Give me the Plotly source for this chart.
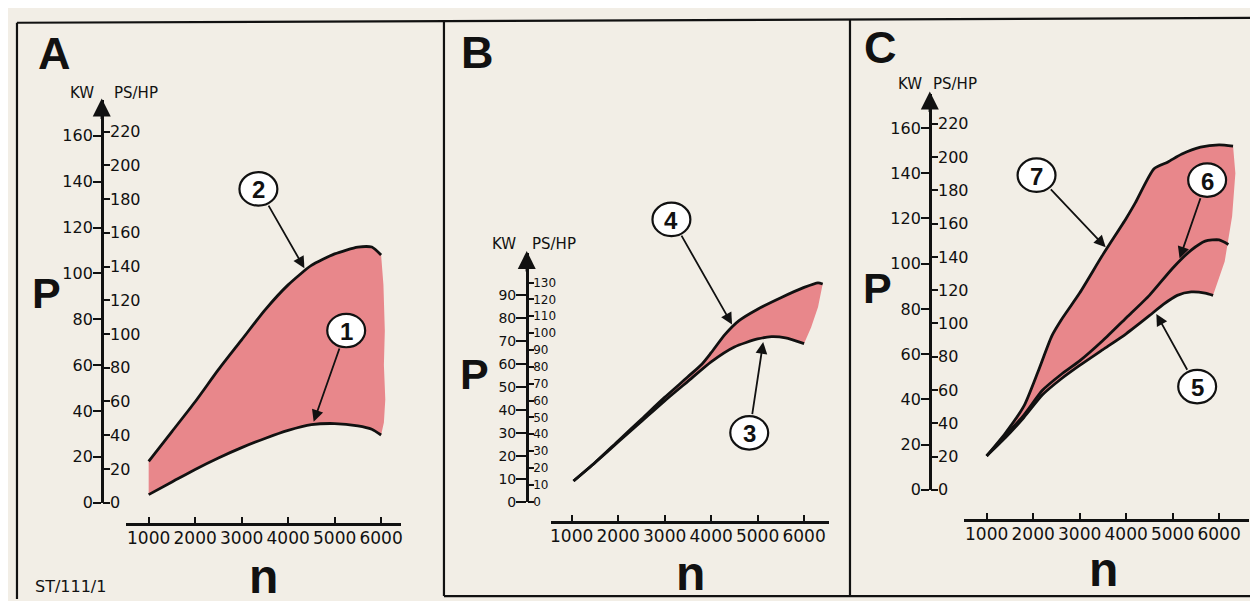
import numpy as np
import plotly.graph_objects as go

W, H = 1258, 601
KW_PER_PS = 0.7355

# ---------------- data (n in rpm, P in kW) ----------------
# Panel A
A_n = [1000, 1500, 2000, 2500, 3000, 3500, 4000, 4500, 5000, 5500, 5800, 6000]
A_curve2 = [18, 31, 44, 58, 71, 84, 95, 103.5, 108.5, 111.5, 111.5, 108]
A_curve1 = [3.5, 9, 14.5, 19.5, 24, 28, 31.5, 34, 34.5, 33.5, 32, 29.5]
A_edge_n = [6050, 6080, 6060, 6090, 6060]
A_edge_kw = [95, 75, 60, 45, 35]

# Panel B
B_n4 = [1040, 1500, 2000, 2500, 3000, 3500, 3800, 4000, 4300, 4600, 5000, 5500, 6000, 6300, 6400]
B_curve4 = [9, 17, 26.5, 36, 45.5, 54.5, 60, 65, 73, 79, 84, 89, 93.5, 95.5, 95]
B_n3 = [1040, 1500, 2000, 2500, 3000, 3500, 4000, 4500, 5000, 5300, 5600, 6000]
B_curve3 = [9, 17, 26, 35, 44, 52.5, 61, 67.5, 71, 72, 71.5, 69]
B_edge_n = [6300, 6150]
B_edge_kw = [85, 76]

# Panel C
C_n7 = [1000, 1400, 1800, 2100, 2400, 2600, 3000, 3500, 4000, 4200, 4600, 4900, 5200, 5600, 6000, 6300]
C_curve7 = [15, 25, 37, 52, 68, 75, 87, 104, 120, 127, 142, 145, 148.5, 151.5, 152.5, 152]
C_n6 = [1000, 1400, 1800, 2200, 2600, 3000, 3500, 4000, 4500, 5000, 5400, 5700, 6000, 6200]
C_curve6 = [15, 24, 33, 44, 51, 57, 66, 76, 86, 98, 106, 110, 110.5, 108.5]
C_n5 = [1000, 1400, 1800, 2200, 2600, 3000, 3500, 4000, 4500, 4800, 5100, 5400, 5700, 5870]
C_curve5 = [15, 23, 32, 42, 49, 55, 62, 69, 77, 82, 86, 87.5, 87, 86]
C_edge_n = [6350, 6280, 6120]
C_edge_kw = [140, 121, 101]

n_ticks = [1000, 2000, 3000, 4000, 5000, 6000]
kw_ticks_AC = list(range(0, 161, 20))
ps_ticks_AC = list(range(0, 221, 20))
kw_ticks_B = list(range(0, 91, 10))
ps_ticks_B = list(range(0, 131, 10))

# ---------------- layout geometry (pixels) ----------------
PINK = "#e8878b"
BG = "#f2eee6"
INK = "#111111"

panels = {
    "A": dict(yx=93, y0=503, kwpx=2.331, ytop=94, xline=525, xl=117, xr=393, t1000=140, p1000=46.6,
              kwt=kw_ticks_AC, pst=ps_ticks_AC, kfs=16, pfs=16, kl=8, pl=7),
    "B": dict(yx=519, y0=502, kwpx=2.33, ytop=249, xline=523, xl=543, xr=822, t1000=564, p1000=46.6,
              kwt=kw_ticks_B, pst=ps_ticks_B, kfs=14, pfs=12, kl=10, pl=6),
    "C": dict(yx=923, y0=490, kwpx=2.3, ytop=87, xline=521, xl=957, xr=1243, t1000=980, p1000=46.6,
              kwt=kw_ticks_AC, pst=ps_ticks_AC, kfs=16, pfs=16, kl=8, pl=7),
}


def px(x):
    return x / W


def py(y):
    return 1 - y / H


fig = go.Figure()
layout = dict(
    width=W, height=H, margin=dict(l=0, r=0, t=0, b=0),
    paper_bgcolor=BG, plot_bgcolor="rgba(0,0,0,0)", showlegend=False,
    font=dict(family="DejaVu Sans", color=INK),
)

names = ["A", "B", "C"]
for i, k in enumerate(names):
    g = panels[k]
    xa = "xaxis" if i == 0 else f"xaxis{i+1}"
    ya = "yaxis" if i == 0 else f"yaxis{2*i+1}"
    yb = f"yaxis{2*i+2}"
    xid = "x" if i == 0 else f"x{i+1}"
    yid = "y" if i == 0 else f"y{2*i+1}"
    g["xid"], g["yid"], g["y2id"] = xid, yid, f"y{2*i+2}"
    nl = 1000 + (g["xl"] - g["t1000"]) / g["p1000"] * 1000
    nr = 1000 + (g["xr"] - g["t1000"]) / g["p1000"] * 1000
    kwtop = (g["y0"] - g["ytop"]) / g["kwpx"]
    layout[xa] = dict(domain=[px(g["xl"]), px(g["xr"])], range=[nl, nr], anchor="free",
                      position=py(g["xline"]), showline=True, linewidth=2.5, linecolor=INK,
                      ticks="inside", ticklen=7, tickwidth=2, tickcolor=INK,
                      tickvals=n_ticks, tickfont=dict(size=17, family="DejaVu Sans", color=INK),
                      ticklabelstandoff=-2,
                      showgrid=False, zeroline=False, fixedrange=True)
    layout[ya] = dict(domain=[py(g["y0"]), py(g["ytop"])], range=[0, kwtop], anchor="free",
                      position=px(g["yx"]), side="left", showline=True, linewidth=2.5, linecolor=INK,
                      ticks="outside", ticklen=g["kl"], tickwidth=2, tickcolor=INK, tickvals=g["kwt"],
                      tickfont=dict(size=g["kfs"], family="DejaVu Sans", color=INK),
                      ticklabelstandoff=-3,
                      showgrid=False, zeroline=False, fixedrange=True)
    layout[yb] = dict(range=[0, kwtop / KW_PER_PS], overlaying=yid, anchor="free",
                      position=px(g["yx"]), side="right", showline=False,
                      ticks="outside", ticklen=g["pl"], tickwidth=2, tickcolor=INK, tickvals=g["pst"],
                      tickfont=dict(size=g["pfs"], family="DejaVu Sans", color=INK),
                      ticklabelstandoff=-3,
                      showgrid=False, zeroline=False, fixedrange=True)


def add_band(k, up_n, up, edge_n, edge_kw, lo_n, lo):
    g = panels[k]
    xs = list(up_n) + list(edge_n) + list(lo_n)[::-1]
    ys = list(up) + list(edge_kw) + list(lo)[::-1]
    fig.add_trace(go.Scatter(x=xs, y=ys, xaxis=g["xid"], yaxis=g["yid"], mode="lines",
                             fill="toself", fillcolor=PINK, line=dict(width=0), hoverinfo="skip"))


def add_curve(k, n, kw):
    g = panels[k]
    fig.add_trace(go.Scatter(x=n, y=kw, xaxis=g["xid"], yaxis=g["yid"], mode="lines",
                             line=dict(color=INK, width=2.8, shape="spline", smoothing=0.6)))


add_band("A", A_n, A_curve2, A_edge_n, A_edge_kw, A_n, A_curve1)
add_curve("A", A_n, A_curve2)
add_curve("A", A_n, A_curve1)

add_band("B", B_n4, B_curve4, B_edge_n, B_edge_kw, B_n3, B_curve3)
add_curve("B", B_n4, B_curve4)
add_curve("B", B_n3, B_curve3)

add_band("C", C_n7, C_curve7, C_edge_n, C_edge_kw, C_n5, C_curve5)
add_curve("C", C_n7, C_curve7)
add_curve("C", C_n6, C_curve6)
add_curve("C", C_n5, C_curve5)

# dummy traces so the PS/HP axes are drawn
for k in names:
    g = panels[k]
    fig.add_trace(go.Scatter(x=[None], y=[None], xaxis=g["xid"], yaxis=g["y2id"], mode="lines"))

annotations = []
shapes = []


def text(x, y, s, size, bold=False, family="Liberation Sans", color=INK):
    annotations.append(dict(x=px(x), y=py(y), xref="paper", yref="paper", showarrow=False,
                            text=f"<b>{s}</b>" if bold else s,
                            font=dict(size=size, family=family, color=color),
                            xanchor="center", yanchor="middle"))


# panel letters / axis names
label_pos = {
    "A": dict(letter=(46, 46), P=(38, 290), n=(255, 578), KW=(73, 86), PS=(127, 86)),
    "B": dict(letter=(470, 45), P=(467, 372), n=(683, 575), KW=(496, 240), PS=(546, 240)),
    "C": dict(letter=(874, 40), P=(871, 285), n=(1097, 571), KW=(903, 77), PS=(948, 77)),
}
for k in names:
    lp = label_pos[k]
    g = panels[k]
    text(*lp["letter"], k, 45, bold=True)
    text(*lp["P"], "P", 43, bold=True)
    text(*lp["n"], "n", 48, bold=True)
    text(*lp["KW"], "KW", 15, family="DejaVu Sans")
    text(*lp["PS"], "PS/HP", 15, family="DejaVu Sans")
    # arrow head on top of the P axis
    annotations.append(dict(x=px(g["yx"]), y=py(g["ytop"] - 2), xref="paper", yref="paper",
                            ax=0, ay=22, showarrow=True, arrowhead=2, arrowsize=1.5,
                            arrowwidth=2.4, arrowcolor=INK, text=""))

text(62, 588, "ST/111/1", 16, family="DejaVu Sans")

# call-outs: number, panel, curve (n, kW) lists, n on curve, circle centre in px, tip offset px
callouts = [
    ("2", "A", A_n, A_curve2, 4350, (250, 184), -3),
    ("1", "A", A_n, A_curve1, 4550, (338, 328), -3),
    ("4", "B", B_n4, B_curve4, 4450, (664, 215), -3),
    ("3", "B", B_n3, B_curve3, 5120, (742, 432), 4),
    ("7", "C", C_n7, C_curve7, 3560, (1030, 170), -3),
    ("6", "C", C_n6, C_curve6, 5150, (1201, 175), -3),
    ("5", "C", C_n5, C_curve5, 4650, (1191, 385), 4),
]
R = 19
for lab, k, cn, ckw, ntip, (cx, cy), dy in callouts:
    g = panels[k]
    kw = float(np.interp(ntip, cn, ckw))
    tx = g["t1000"] + (ntip - 1000) / 1000 * g["p1000"]
    ty = g["y0"] - kw * g["kwpx"] + dy
    dx, dyy = tx - cx, ty - cy
    d = (dx * dx + dyy * dyy) ** 0.5
    sx, sy = cx + R * dx / d, cy + R * dyy / d
    annotations.append(dict(x=px(tx), y=py(ty), xref="paper", yref="paper", ax=sx - tx, ay=sy - ty,
                            showarrow=True, arrowhead=2, arrowsize=1.3, arrowwidth=1.8,
                            arrowcolor=INK, text=""))
    shapes.append(dict(type="circle", xref="paper", yref="paper", x0=px(cx - R), x1=px(cx + R),
                       y0=py(cy + R - 2), y1=py(cy - R + 2), line=dict(color=INK, width=2.2),
                       fillcolor="#ffffff"))
    text(cx, cy + 1, lab, 24, bold=True)

# panel frames
frame = [
    ((8, 15), (1253, 10)),
    ((8, 15), (8, 601)),
    ((436, 13), (436, 598)),
    ((843, 12), (843, 598)),
    ((1253, 10), (1253, 598)),
    ((436, 598), (1253, 598)),
]
for (x0, y0), (x1, y1) in frame:
    shapes.append(dict(type="line", xref="paper", yref="paper", x0=px(x0), y0=py(y0),
                       x1=px(x1), y1=py(y1), line=dict(color=INK, width=2.2)))

layout["annotations"] = annotations
layout["shapes"] = shapes
fig.update_layout(**layout)
fig.write_html("out.html")
